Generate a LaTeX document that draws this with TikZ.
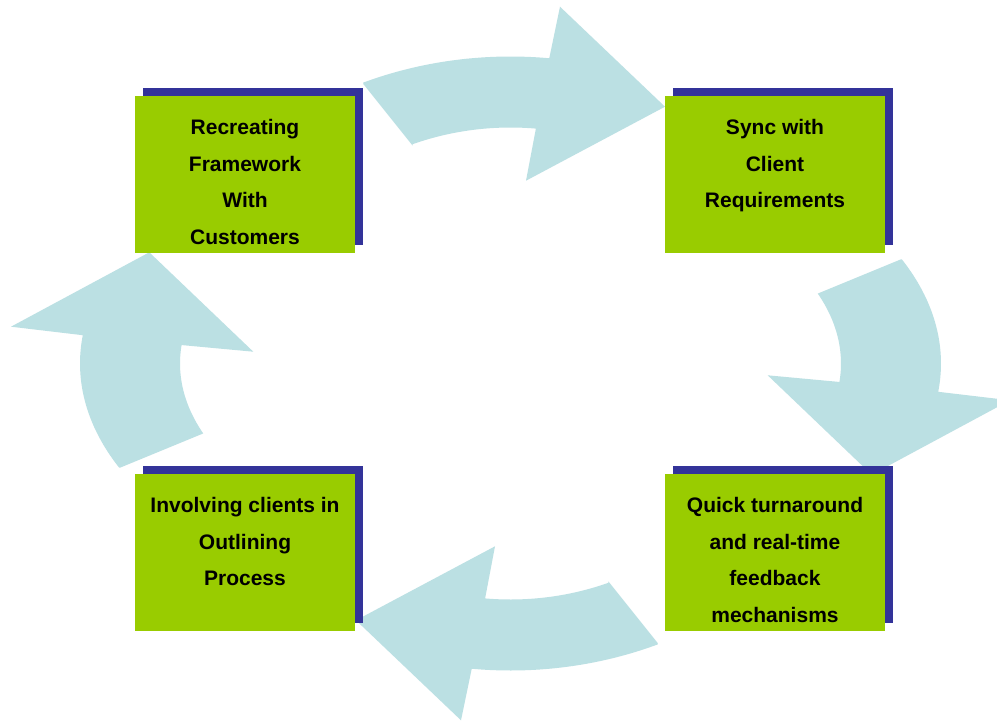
\documentclass[tikz,border=0pt]{standalone}
\usepackage{fontspec}
\setmainfont{Liberation Sans}
\usetikzlibrary{shadows}
\definecolor{boxgreen}{HTML}{99CC00}
\definecolor{boxblue}{HTML}{333399}
\definecolor{arrowblue}{HTML}{BBE0E3}
\begin{document}
\begin{tikzpicture}[x=1pt,y=-1pt,
  stepbox/.style={fill=boxgreen, minimum width=220pt, minimum height=157pt, inner sep=0pt,
    general shadow={fill=boxblue, shadow xshift=8pt, shadow yshift=8pt}},
  boxtext/.style={anchor=north, inner sep=0pt, align=center,
    font=\bfseries\fontsize{21}{36.7}\selectfont, yshift=-23.1pt},
  arrowshape/.style={fill=arrowblue, draw=none}]
\useasboundingbox (0,0) rectangle (997,721);
\clip (0,0) rectangle (997,721);
\fill[white] (0,0) rectangle (997,721);
% top arrow and its 180-degree copy (bottom)
\foreach \ang in {0,180}{
\begin{scope}[rotate around={\ang:(510.5,363.5)}]
\path[arrowshape] (363.3,84) -- (412.7,145.7)
  -- plot[domain=111.7:84.5,samples=40] ({510.5+265*cos(\x)},{363.5-236*sin(\x)})
  -- (526,180.7) -- (665,106.7) -- (560,6.7)
  -- plot[domain=83.9:113.8,samples=40] ({510.5+365*cos(\x)},{363.5-307*sin(\x)})
  -- cycle;
\end{scope}
% left arrow and its 180-degree copy (right)
\begin{scope}[rotate around={\ang:(510.5,363.5)}]
\path[arrowshape] (149.3,252.3) -- (253.3,351.7) -- (181,345)
  -- plot[domain=174.4:201.6,samples=40] ({510.5+330.5*cos(\x)},{363.5-190*sin(\x)})
  -- (120,467.7)
  -- plot[domain=204.6:173.5,samples=40] ({510.5+430.5*cos(\x)},{363.5-250*sin(\x)})
  -- (11,326.7) -- cycle;
\end{scope}
}
% boxes
\node[stepbox] (b1) at (245,174.5) {};
\node[stepbox] (b2) at (775,174.5) {};
\node[stepbox] (b3) at (245,552.5) {};
\node[stepbox] (b4) at (775,552.5) {};
\node[boxtext] (t1) at (b1.north) {Recreating\\Framework\\With\\Customers};
\node[boxtext] (t2) at (b2.north) {Sync with\\Client\\Requirements};
\node[boxtext] (t3) at (b3.north) {Involving clients in\\Outlining\\Process};
\node[boxtext] (t4) at (b4.north) {Quick turnaround\\and real-time\\feedback\\mechanisms};
\end{tikzpicture}
\end{document}
